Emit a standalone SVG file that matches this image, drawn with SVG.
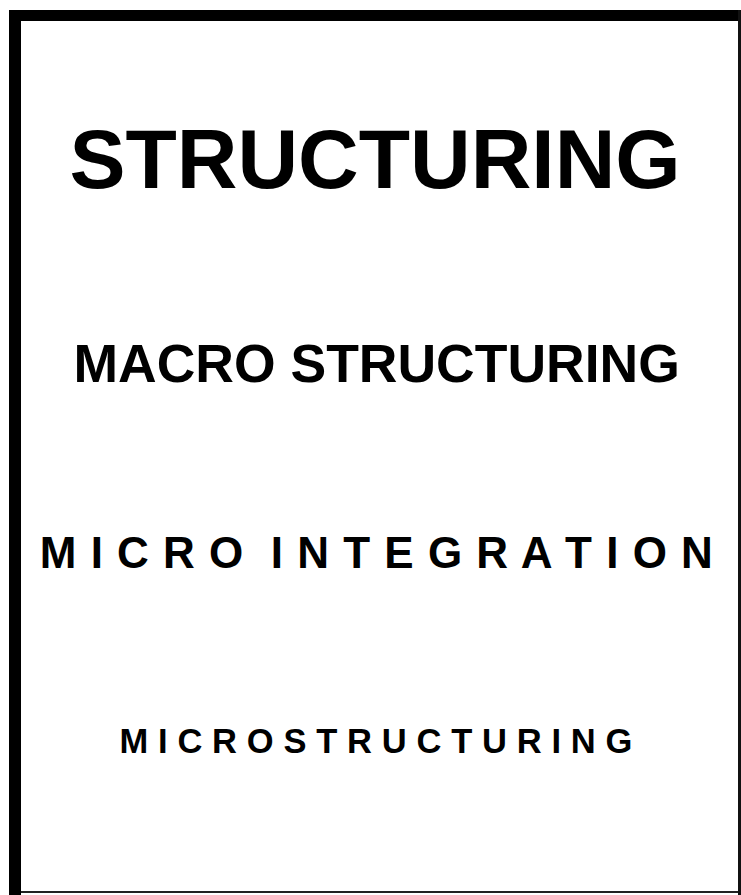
<svg xmlns="http://www.w3.org/2000/svg" width="741" height="895" viewBox="0 0 741 895" xml:space="preserve">
  <style>
    .t { font-family: "Liberation Sans", Arial, sans-serif; font-weight: bold; fill: #000; white-space: pre; }
  </style>
  <rect x="0" y="0" width="741" height="895" fill="#fff"/>
  <!-- frame: heavy top and left edges, thin right and bottom -->
  <g id="frame">
    <rect x="9" y="10" width="732" height="11" fill="#000"/>
    <rect x="9" y="10" width="12" height="885" fill="#000"/>
    <rect x="738" y="10" width="3" height="885" fill="#111"/>
    <rect x="21" y="891" width="717" height="2" fill="#222"/>
  </g>
  <g id="title">
    <text class="t" x="69.4" y="188" font-size="84">STRUCTURING</text>
  </g>
  <g id="macro">
    <text class="t" x="73.5" y="382" font-size="53.5">MACRO STRUCTURING</text>
  </g>
  <g id="micro-integration">
    <text class="t" x="39.8" y="568" font-size="44" letter-spacing="1.0">M I C R O  I N T E G R A T I O N</text>
  </g>
  <g id="microstructuring">
    <text class="t" x="119.5" y="753" font-size="34.5" letter-spacing="0.1">M I C R O S T R U C T U R I N G</text>
  </g>
  <g id="connectors"/>
</svg>
